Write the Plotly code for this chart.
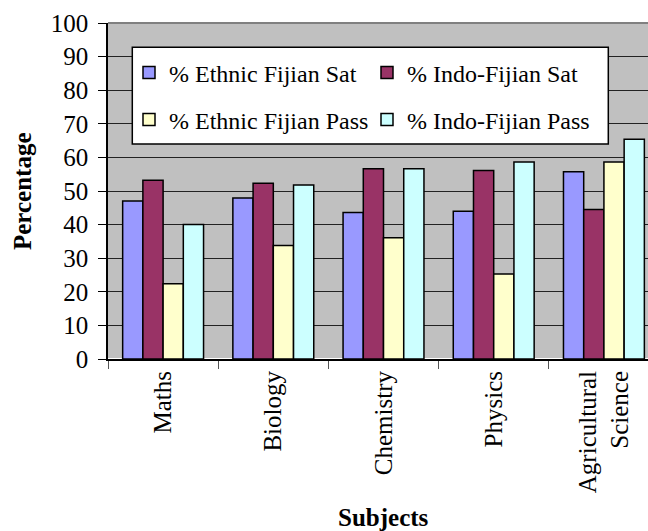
import plotly.graph_objects as go

# Percentage of students sitting and passing each subject, by ethnic group
subjects = ["Maths", "Biology", "Chemistry", "Physics", "Agricultural<br>Science"]
ethnic_fijian_sat = [47.0, 47.9, 43.6, 44.0, 55.7]
indo_fijian_sat = [53.2, 52.3, 56.6, 56.1, 44.5]
ethnic_fijian_pass = [22.4, 33.8, 36.1, 25.3, 58.6]
indo_fijian_pass = [40.0, 51.8, 56.6, 58.6, 65.4]
y_ticks = list(range(0, 101, 10))

FONT = "'Liberation Serif', 'Times New Roman', Times, serif"

series = [
    ("% Ethnic Fijian Sat", ethnic_fijian_sat, "#9999FF", "legend"),
    ("% Indo-Fijian Sat", indo_fijian_sat, "#993366", "legend"),
    ("% Ethnic Fijian Pass", ethnic_fijian_pass, "#FFFFCC", "legend2"),
    ("% Indo-Fijian Pass", indo_fijian_pass, "#CCFFFF", "legend2"),
]

fig = go.Figure()
for name, vals, color, leg in series:
    fig.add_trace(go.Bar(
        x=subjects, y=vals, name=name, legend=leg,
        marker=dict(color=color, line=dict(color="black", width=1.5)),
    ))

W, H = 648, 531
L, T, B = 108, 23, 172
plot_w = W - L
plot_h = H - T - B

def px_x(px):
    return (px - L) / plot_w

def px_y(py):
    return (H - B - py) / plot_h

legend_common = dict(
    orientation="h", bgcolor="rgba(0,0,0,0)", borderwidth=0,
    font=dict(family=FONT, size=24, color="black"),
    entrywidth=193, entrywidthmode="pixels",
    xanchor="left", yanchor="middle", itemclick=False,
)

fig.update_layout(
    width=W, height=H,
    margin=dict(l=L, r=0, t=T, b=B, pad=0),
    paper_bgcolor="white",
    plot_bgcolor="#C0C0C0",
    barmode="group", bargap=0.266, bargroupgap=0,
    font=dict(family=FONT, size=25, color="black"),
    legend=dict(x=px_x(129), y=px_y(73), **legend_common),
    legend2=dict(x=px_x(129), y=px_y(120), **legend_common),
    xaxis=dict(
        range=[-0.5, 4.4], tickson="boundaries", ticks="outside", ticklen=8,
        tickcolor="#555555", tickwidth=1, tickangle=-90,
        showline=True, linecolor="black", linewidth=2,
        showgrid=False, tickfont=dict(family=FONT, size=25, color="black"),
        fixedrange=True,
    ),
    yaxis=dict(
        range=[0, 100], tickvals=y_ticks, ticks="outside", ticklen=8,
        tickcolor="black", tickwidth=1, ticklabelstandoff=5,
        showline=True, linecolor="black", linewidth=1.5,
        showgrid=True, gridcolor="#222222", gridwidth=1,
        tickfont=dict(family=FONT, size=25, color="black"),
        fixedrange=True,
    ),
    shapes=[
        # plot-area top border
        dict(type="line", xref="paper", yref="paper", x0=0, x1=1, y0=1, y1=1,
             line=dict(color="#808080", width=2), layer="above"),
        # legend box
        dict(type="rect", xref="paper", yref="paper",
             x0=px_x(132.3), x1=px_x(608.3), y0=px_y(144), y1=px_y(47.3),
             fillcolor="white", line=dict(color="black", width=1.5), layer="above"),
    ],
    annotations=[
        dict(text="<b>Percentage</b>", xref="paper", yref="paper",
             x=px_x(22), y=px_y(191), textangle=-90, showarrow=False,
             xanchor="center", yanchor="middle",
             font=dict(family=FONT, size=25, color="black")),
        dict(text="<b>Subjects</b>", xref="x", yref="paper",
             x=2, y=px_y(517), showarrow=False,
             xanchor="center", yanchor="middle",
             font=dict(family=FONT, size=25, color="black")),
    ],
)

fig.write_html("out.html")
